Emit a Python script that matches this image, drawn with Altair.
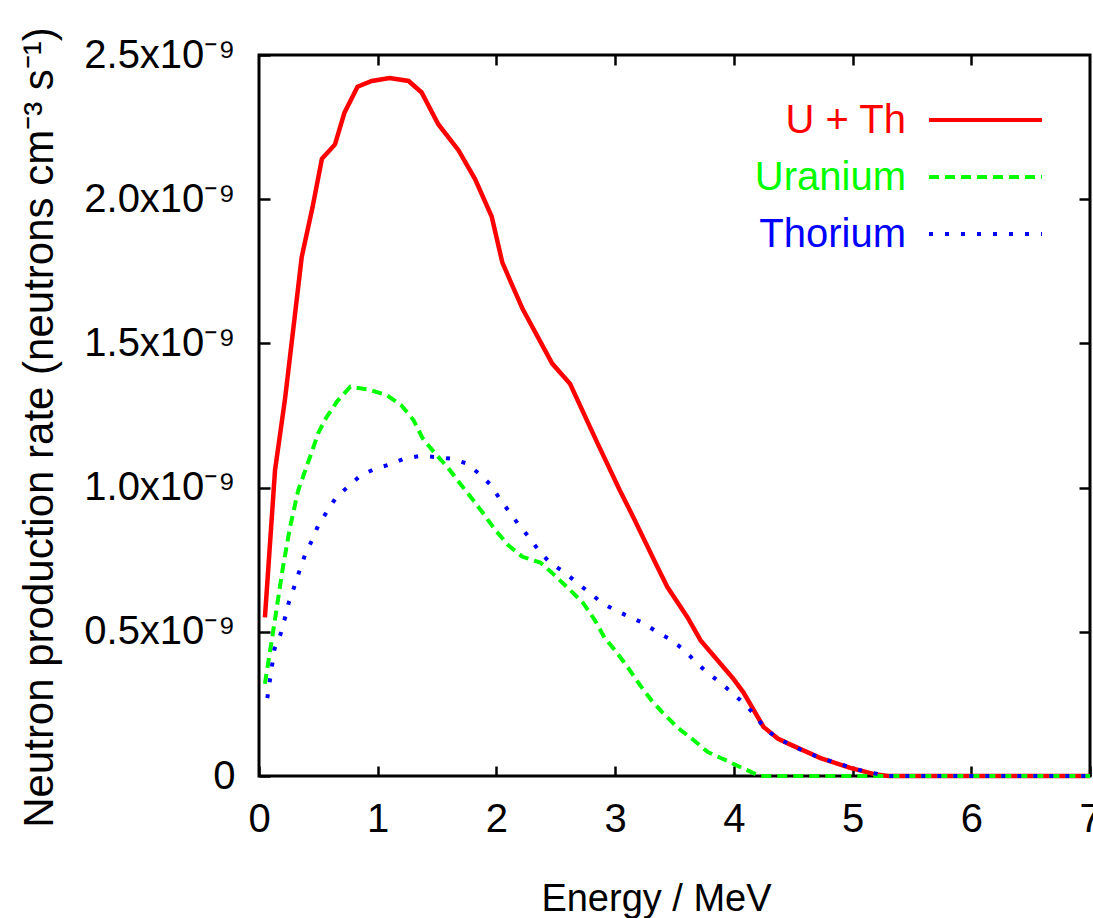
import altair as alt
import pandas as pd

# ---- data (rates in units of 1e-9 neutrons cm^-3 s^-1) ----
series_names = ["U + Th", "Uranium", "Thorium"]
series_colors = ["#ff0000", "#00ff00", "#0000ff"]

energy_uth = [0.05, 0.135, 0.22, 0.30, 0.36, 0.45, 0.53, 0.64, 0.72, 0.83, 0.95, 1.10, 1.26,
              1.37, 1.51, 1.68, 1.82, 1.96, 2.05, 2.22, 2.47, 2.62, 2.85, 3.04, 3.15, 3.35,
              3.44, 3.61, 3.72, 3.99, 4.08, 4.25, 4.37, 4.45, 4.73, 4.98, 5.2, 5.3, 7.0]
rate_uth = [0.55, 1.06, 1.31, 1.59, 1.80, 1.97, 2.14, 2.19, 2.30, 2.39, 2.41, 2.42, 2.41,
            2.37, 2.26, 2.17, 2.07, 1.94, 1.78, 1.62, 1.43, 1.36, 1.155, 0.99, 0.90, 0.73,
            0.655, 0.55, 0.47, 0.34, 0.29, 0.17, 0.13, 0.114, 0.062, 0.028, 0.005, 0.0, 0.0]

energy_u = [0.05, 0.13, 0.20, 0.26, 0.33, 0.39, 0.45, 0.50, 0.57, 0.66, 0.77, 0.92, 1.08,
            1.20, 1.30, 1.38, 1.48, 1.59, 1.69, 1.79, 1.89, 1.99, 2.10, 2.22, 2.37, 2.48,
            2.62, 2.73, 2.83, 2.91, 3.01, 3.11, 3.21, 3.31, 3.40, 3.53, 3.66, 3.78, 3.93,
            4.07, 4.22, 7.0]
rate_u = [0.32, 0.53, 0.72, 0.86, 0.99, 1.06, 1.13, 1.19, 1.245, 1.30, 1.35, 1.34, 1.32,
          1.285, 1.235, 1.17, 1.12, 1.07, 1.016, 0.964, 0.91, 0.853, 0.80, 0.76, 0.74, 0.70,
          0.645, 0.60, 0.54, 0.48, 0.43, 0.375, 0.315, 0.26, 0.22, 0.166, 0.125, 0.083, 0.055,
          0.028, 0.0, 0.0]

energy_th = [0.07, 0.13, 0.18, 0.22, 0.25, 0.30, 0.34, 0.39, 0.45, 0.50, 0.57, 0.64, 0.74,
             0.85, 0.97, 1.10, 1.22, 1.36, 1.49, 1.62, 1.74, 1.85, 1.95, 2.03, 2.11, 2.19,
             2.27, 2.36, 2.45, 2.56, 2.68, 2.77, 2.89, 3.00, 3.13, 3.24, 3.35, 3.48, 3.57,
             3.67, 3.77, 3.88, 3.98, 4.09, 4.18, 4.26, 4.37, 4.62, 4.84, 5.09, 5.3, 7.0]
rate_th = [0.27, 0.44, 0.49, 0.55, 0.60, 0.66, 0.71, 0.77, 0.82, 0.87, 0.915, 0.96, 1.00,
           1.04, 1.064, 1.08, 1.10, 1.11, 1.106, 1.10, 1.085, 1.05, 1.01, 0.96, 0.915, 0.87,
           0.83, 0.78, 0.74, 0.71, 0.67, 0.64, 0.60, 0.575, 0.55, 0.53, 0.50, 0.47, 0.44,
           0.40, 0.36, 0.326, 0.29, 0.25, 0.21, 0.165, 0.13, 0.08, 0.048, 0.017, 0.0, 0.0]

x_ticks = [0, 1, 2, 3, 4, 5, 6, 7]
y_ticks = [0, 0.5, 1.0, 1.5, 2.0, 2.5]

FONT = "Liberation Sans"


def frame(e, v, s):
    return pd.DataFrame({"energy": e, "rate": v, "series": s})


df_uth = frame(energy_uth, rate_uth, series_names[0])
df_u = frame(energy_u, rate_u, series_names[1])
df_th = frame(energy_th, rate_th, series_names[2])
legend_df = pd.DataFrame({"series": series_names})

xscale = alt.Scale(domain=[0, 7], nice=False, zero=False)
yscale = alt.Scale(domain=[0, 2.5], nice=False)

x_bottom = alt.Axis(values=x_ticks, orient="bottom", offset=-10, tickSize=10, tickWidth=2.5,
                    tickColor="black", domain=False, grid=False, labelFont=FONT,
                    labelFontSize=40, labelColor="black", labelPadding=23, labelFlush=False,
                    labelOverlap=False, format="d", title="Energy / MeV", titleFont=FONT,
                    titleFontSize=38, titleFontWeight="normal", titleColor="black",
                    titleBaseline="alphabetic", titleY=144, titleX=397)
x_top = alt.Axis(values=x_ticks[1:-1], orient="top", offset=-10, tickSize=10, tickWidth=2.5,
                 tickColor="black", domain=False, grid=False, labels=False, title=None)
y_left = alt.Axis(values=y_ticks, orient="left", offset=-11, tickSize=11, tickWidth=2.5,
                  tickColor="black", domain=False, grid=False, labelFont=FONT,
                  labelFontSize=40, labelColor="black", labelPadding=24, labelFlush=False,
                  labelOverlap=False,
                  labelExpr="datum.value == 0 ? '0' : format(datum.value, '.1f') + 'x10⁻⁹'",
                  title="Neutron production rate (neutrons cm⁻³ s⁻¹)", titleFont=FONT,
                  titleFontSize=42, titleFontWeight="normal", titleColor="black",
                  titleBaseline="alphabetic", titleX=-218, titleY=372)
y_right = alt.Axis(values=y_ticks[1:-1], orient="right", offset=-11, tickSize=11,
                   tickWidth=2.5, tickColor="black", domain=False, grid=False, labels=False,
                   title=None)

red = alt.Chart(df_uth).mark_line(color=series_colors[0], strokeWidth=4.5).encode(
    x=alt.X("energy:Q", scale=xscale, axis=x_bottom),
    y=alt.Y("rate:Q", scale=yscale, axis=y_left),
)
green = alt.Chart(df_u).mark_line(color=series_colors[1], strokeWidth=4,
                                  strokeDash=[10, 6]).encode(
    x=alt.X("energy:Q", scale=xscale, axis=x_top),
    y=alt.Y("rate:Q", scale=yscale, axis=y_right),
)
blue = alt.Chart(df_th).mark_line(color=series_colors[2], strokeWidth=4,
                                  strokeDash=[4, 12]).encode(
    x=alt.X("energy:Q", scale=xscale, axis=None),
    y=alt.Y("rate:Q", scale=yscale, axis=None),
)

leg_y = alt.Y("series:N", scale=alt.Scale(type="point", domain=series_names,
                                          range=[65, 179], padding=0), axis=None)
leg_color = alt.Color("series:N", scale=alt.Scale(domain=series_names, range=series_colors),
                      legend=None)

legend_text = alt.Chart(legend_df).mark_text(align="right", baseline="middle", font=FONT,
                                             fontSize=40, dy=1).encode(
    x=alt.value(647), y=leg_y, text="series:N", color=leg_color)
legend_lines = alt.Chart(legend_df).mark_rule(strokeWidth=4).encode(
    x=alt.value(670), x2=alt.value(783), y=leg_y, color=leg_color,
    strokeDash=alt.StrokeDash("series:N", scale=alt.Scale(domain=series_names,
                                                          range=[[1, 0], [10, 6], [4, 12]]),
                              legend=None))

chart = alt.layer(red, green, blue, legend_text, legend_lines).resolve_scale(
    y="independent", color="independent", strokeDash="independent"
).resolve_axis(x="independent", y="independent").properties(
    width=831, height=721,
    autosize=alt.AutoSizeParams(type="none"),
    padding={"left": 259, "top": 55, "right": 3, "bottom": 142},
    background="white",
).configure_view(stroke="black", strokeWidth=3)

chart.save("out.html", embed_options={"renderer": "svg", "actions": False})
